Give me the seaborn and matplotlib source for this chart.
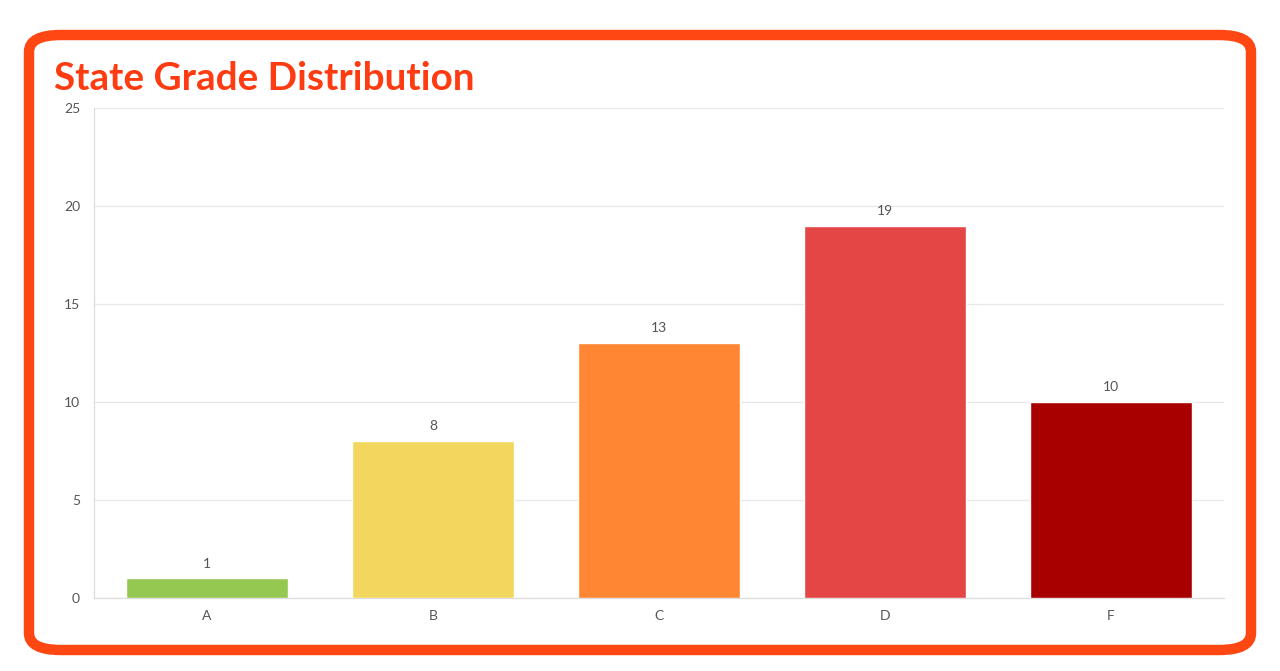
import matplotlib
matplotlib.use("Agg")
import matplotlib.pyplot as plt
from matplotlib.patches import FancyBboxPatch
import seaborn as sns
import pandas as pd

# Chart data
grades = ["A", "B", "C", "D", "F"]
counts = [1, 8, 13, 19, 10]
bar_colors = ["#95C851", "#F2D65E", "#FF8733", "#E34645", "#A80000"]
y_ticks = [0, 5, 10, 15, 20, 25]

df = pd.DataFrame({"grade": grades, "count": counts})

sns.set_theme(style="white")
plt.rcParams["font.family"] = ["Lato", "DejaVu Sans"]

fig = plt.figure(figsize=(12.8, 6.71), dpi=100)

# rounded orange frame around the card
frame = FancyBboxPatch((29 / 1280, 1 - 650 / 671), 1222 / 1280, 615 / 671,
                       boxstyle="round,pad=0,rounding_size=0.025",
                       transform=fig.transFigure, facecolor="white",
                       edgecolor="#FF4713", linewidth=7.5, zorder=-5)
fig.patches.append(frame)

fig.text(54 / 1280, 1 - 78 / 671, "State Grade Distribution", color="#FF3B12",
         fontsize=27.8, fontweight="bold", va="center", ha="left")

ax = fig.add_axes([94 / 1280, 1 - 598 / 671, 1130 / 1280, 490 / 671])
ax.set_facecolor("none")
ax.set_zorder(2)

sns.barplot(data=df, x="grade", y="count", hue="grade", palette=bar_colors,
            legend=False, width=0.72, saturation=1, ax=ax, zorder=3)

for i, v in enumerate(counts):
    ax.text(i, v + 0.45, str(v), ha="center", va="bottom", fontsize=10,
            color="#555555")

ax.set_ylim(0, 25)
ax.set_yticks(y_ticks)
ax.set_xlim(-0.5, len(grades) - 0.5)
ax.set_xlabel("")
ax.set_ylabel("")
ax.grid(axis="y", color="#E8E8E8", linewidth=0.9, zorder=0)
ax.set_axisbelow(True)

for side in ["top", "right"]:
    ax.spines[side].set_visible(False)
for side in ["left", "bottom"]:
    ax.spines[side].set_color("#DDDDDD")
    ax.spines[side].set_linewidth(0.9)

ax.tick_params(axis="y", length=6, color="#DDDDDD", labelsize=10,
               labelcolor="#555555", pad=4)
ax.tick_params(axis="x", length=0, labelsize=10, labelcolor="#555555", pad=9)

fig.savefig("out.png", dpi=100)
